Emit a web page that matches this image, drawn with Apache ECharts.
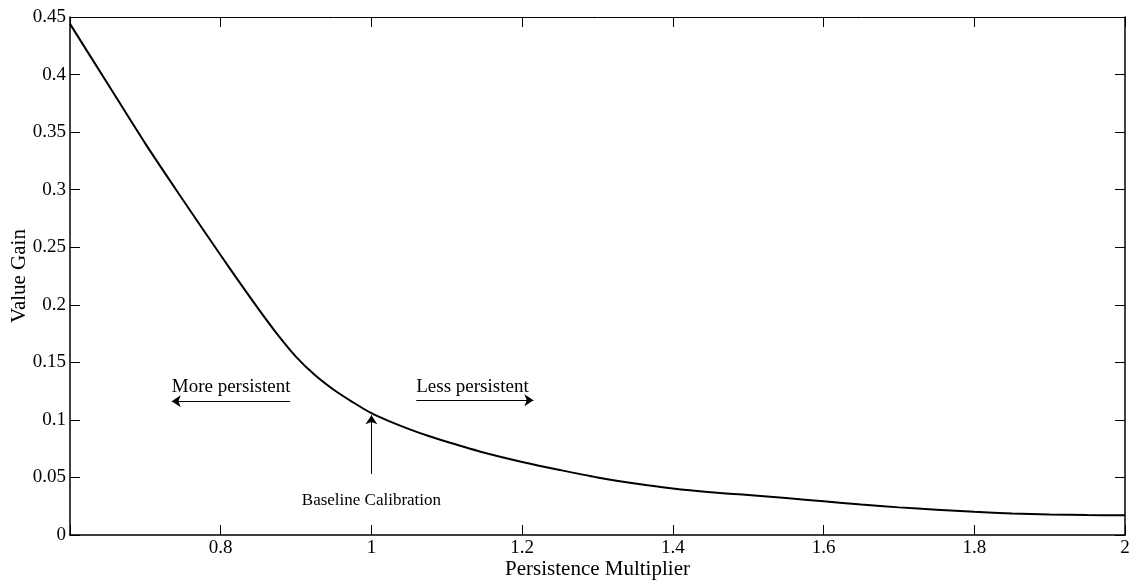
<!DOCTYPE html>
<html>
<head>
<meta charset="UTF-8">
<title>Value Gain</title>
<script src="https://cdn.jsdelivr.net/npm/echarts@6/dist/echarts.min.js"></script>
<style>
  html, body { margin: 0; padding: 0; background: #fff; }
  #main { width: 1130px; height: 580px; }
</style>
</head>
<body>
<div id="main"></div>
<script>
// multiplier values (x) and the value gain (y)
var multipliers = [0.60, 0.65, 0.70, 0.75, 0.80, 0.825, 0.85, 0.875, 0.90, 0.925, 0.95, 0.975, 1.00, 1.025, 1.05,
                   1.075, 1.10, 1.15, 1.20, 1.25, 1.30, 1.35, 1.40, 1.45, 1.50, 1.55, 1.60, 1.65, 1.70, 1.75,
                   1.80, 1.85, 1.90, 1.95, 2.00];
var gains = [0.444, 0.392, 0.340, 0.291, 0.243, 0.2195, 0.1965, 0.1745, 0.1548, 0.1390, 0.1262, 0.1155, 0.1058, 0.0985,
             0.0920, 0.0862, 0.0810, 0.0715, 0.0635, 0.0565, 0.0500, 0.0447, 0.0403, 0.0371, 0.0347, 0.0321,
             0.0293, 0.0265, 0.0240, 0.0220, 0.0201, 0.0187, 0.0178, 0.0173, 0.0171];

// annotations, in data units
var leftArrow = [[0.892, 0.1163], [0.735, 0.1163]];
var rightArrow = [[1.0595, 0.117], [1.215, 0.117]];
var baseArrow = [[1.0, 0.053], [1.0, 0.1040]];
var notes = [
  { text: 'More persistent', at: [0.735, 0.1285], size: 19 },
  { text: 'Less persistent', at: [1.0595, 0.1285], size: 19 },
  { text: 'Baseline Calibration', at: [1.0, 0.0300], size: 17, center: true }
];

var font = 'Liberation Serif';
var chart = echarts.init(document.getElementById('main'));

var lineData = [];
for (var i = 0; i < multipliers.length; i++) {
  lineData.push([multipliers[i], gains[i]]);
}

function axisCommon(show) {
  return {
    nameMoveOverlap: false,
    axisLine: { show: true, onZero: false, lineStyle: { color: '#000', width: 1 } },
    axisTick: { show: true, inside: true, length: 10, lineStyle: { color: '#000' } },
    splitLine: { show: false },
    axisLabel: { show: show, color: '#000', fontFamily: font, fontSize: 19 }
  };
}

var xBottom = axisCommon(true);
xBottom.type = 'value';
xBottom.position = 'bottom';
xBottom.min = 0.6; xBottom.max = 2; xBottom.interval = 0.2;
xBottom.axisLine.lineStyle.width = 1.5;
xBottom.axisLabel.margin = 4;
xBottom.axisLabel.formatter = function (v) { return v < 0.7 ? '' : String(Math.round(v * 10) / 10); };
xBottom.name = 'Persistence Multiplier';
xBottom.nameLocation = 'middle';
xBottom.nameGap = 24;
xBottom.nameTextStyle = { color: '#000', fontFamily: font, fontSize: 21 };

var xTop = axisCommon(false);
xTop.type = 'value';
xTop.position = 'top';
xTop.min = 0.6; xTop.max = 2; xTop.interval = 0.2;

var yLeft = axisCommon(true);
yLeft.type = 'value';
yLeft.position = 'left';
yLeft.min = 0; yLeft.max = 0.45; yLeft.interval = 0.05;
yLeft.axisLine.lineStyle.width = 1.5;
yLeft.axisLabel.margin = 4;
yLeft.axisLabel.formatter = function (v) { return String(Math.round(v * 100) / 100); };
yLeft.name = 'Value Gain';
yLeft.nameLocation = 'middle';
yLeft.nameGap = 40;
yLeft.nameTextStyle = { color: '#000', fontFamily: font, fontSize: 21 };

var yRight = axisCommon(false);
yRight.type = 'value';
yRight.position = 'right';
yRight.min = 0; yRight.max = 0.45; yRight.interval = 0.05;
yRight.axisLine.lineStyle.width = 1.5;

chart.setOption({
  animation: false,
  backgroundColor: '#fff',
  grid: { left: 70, right: 5, top: 17, bottom: 45, containLabel: false, outerBoundsMode: 'none' },
  xAxis: [xBottom, xTop],
  yAxis: [yLeft, yRight],
  series: [
    {
      type: 'line',
      xAxisIndex: 0,
      yAxisIndex: 0,
      data: lineData,
      smooth: 0.3,
      showSymbol: false,
      lineStyle: { color: '#000', width: 2 }
    },
    {
      type: 'lines',
      coordinateSystem: 'cartesian2d',
      xAxisIndex: 0,
      yAxisIndex: 0,
      symbol: ['none', 'arrow'],
      symbolSize: [0, 9],
      lineStyle: { color: '#000', width: 1, opacity: 1 },
      data: [{ coords: leftArrow }, { coords: rightArrow }, { coords: baseArrow }]
    }
  ]
});

// text notes placed through the axes
var texts = notes.map(function (n) {
  var p = chart.convertToPixel({ xAxisIndex: 0, yAxisIndex: 0 }, n.at);
  return {
    type: 'text',
    x: p[0],
    y: p[1],
    style: {
      text: n.text,
      fill: '#000',
      font: n.size + 'px "' + font + '"',
      align: n.center ? 'center' : 'left',
      verticalAlign: 'middle'
    }
  };
});
chart.setOption({ graphic: texts });
</script>
</body>
</html>
